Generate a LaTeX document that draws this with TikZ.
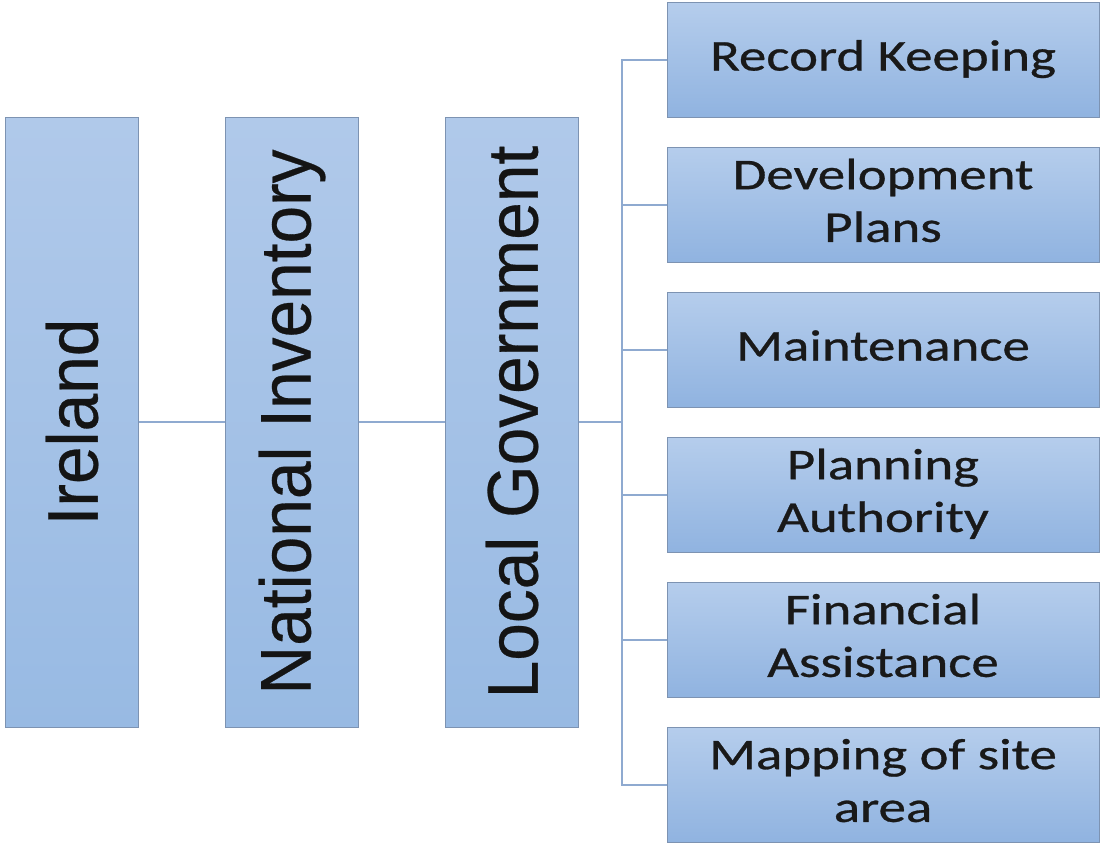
\documentclass[tikz,border=0pt]{standalone}
\usepackage{graphicx}
\usepackage{fontspec}
\setmainfont{Carlito}[FakeBold=0.6]
\newfontfamily\levelfont{Liberation Sans}[FakeBold=0.4]
\definecolor{boxtop}{HTML}{B5CDEC}
\definecolor{boxbottom}{HTML}{90B3E0}
\definecolor{leveltop}{HTML}{B0C9EA}
\definecolor{levelbottom}{HTML}{98BAE3}
\definecolor{boxline}{HTML}{7D93B2}
\definecolor{linkline}{HTML}{8FAAD0}
% stretched text, as in the scanned chart
\newcommand{\wide}[1]{\scalebox{1.25}[1]{\begin{tabular}{@{}c@{}}#1\end{tabular}}}
\newcommand{\tall}[1]{\scalebox{1}[1.06]{#1}}
\begin{document}
\begin{tikzpicture}[x=0.02cm, y=-0.02cm,
  level/.style={draw=boxline, top color=leveltop, bottom color=levelbottom, rotate=90,
    minimum width=12.2cm, minimum height=2.66cm, inner sep=0pt,
    font=\levelfont\fontsize{38.5}{46}\selectfont, text=black!92},
  task/.style={draw=boxline, top color=boxtop, bottom color=boxbottom,
    minimum width=8.64cm, minimum height=2.3cm, inner sep=0pt,
    font=\fontsize{25}{30}\selectfont, text=black!90},
  link/.style={draw=linkline, line width=0.9pt}]
\useasboundingbox (0,0) rectangle (1101,844);

% Levels
\node[level] (ireland) at (72,422) {\tall{Ireland}};
\node[level] (inventory) at (292,422) {\tall{National Inventory}};
\node[level] (localgov) at (512,422) {\tall{Local Government}};

% Duties of local government
\node[task] (records) at (883,60) {\wide{Record Keeping}};
\node[task] (devplans) at (883,205) {\wide{Development\\Plans}};
\node[task] (maint) at (883,350) {\wide{Maintenance}};
\node[task] (planauth) at (883,495) {\wide{Planning\\Authority}};
\node[task] (finance) at (883,640) {\wide{Financial\\Assistance}};
\node[task] (mapping) at (883,785) {\wide{Mapping of site\\area}};

% Links
\coordinate (fork) at (622,422);
\draw[link] (ireland) -- (inventory);
\draw[link] (inventory) -- (localgov);
\draw[link] (localgov.south) -- (fork);
\draw[link] (fork) |- (records.west);
\draw[link] (fork) |- (devplans.west);
\draw[link] (fork) |- (maint.west);
\draw[link] (fork) |- (planauth.west);
\draw[link] (fork) |- (finance.west);
\draw[link] (fork) |- (mapping.west);
\end{tikzpicture}
\end{document}
